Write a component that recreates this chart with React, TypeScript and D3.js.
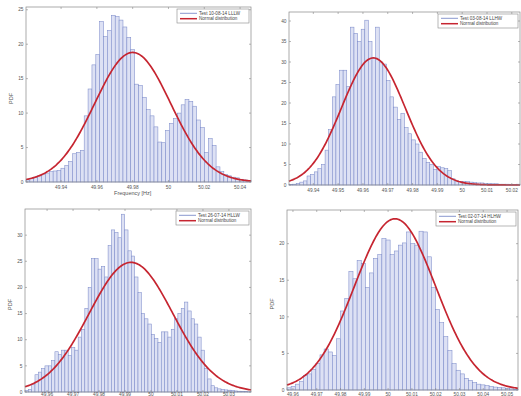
import React, { useEffect, useRef } from 'react';
import * as d3 from 'd3';

// bin heights (PDF), left to right
const pdfLLLW = [0.3, 0.5, 0.7, 0.9, 1.1, 1.3, 1.5, 1.6, 1.7, 2.0, 2.4, 3.0, 4.1, 4.3, 4.6, 9.6, 13.5, 17.0, 18.5, 23.3, 21.1, 22.0, 24.2, 24.0, 23.5, 22.5, 21.0, 19.2, 14.2, 14.0, 12.3, 10.5, 9.6, 8.0, 5.8, 5.7, 7.5, 8.5, 9.2, 10.0, 11.2, 12.0, 11.7, 11.0, 9.0, 7.9, 4.3, 6.3, 5.3, 2.2, 1.5, 1.1, 0.9, 0.7, 0.6, 0.4, 0.3, 0.2];
const pdfLLHW = [0.1, 0.2, 0.4, 0.7, 1.0, 2.2, 2.6, 3.2, 4.0, 5.0, 8.5, 13.5, 21.5, 24.5, 28, 28, 24, 38.5, 37, 35, 38, 40.2, 35, 31, 38.5, 30, 29.5, 25.5, 21.5, 19, 16, 17.5, 14, 12.5, 11, 10, 8, 6.5, 5.5, 5, 3.8, 4.5, 4.2, 4, 3.5, 1.5, 1.0, 0.9, 0.8, 0.8, 0.7, 0.6, 0.5, 0.5, 0.4, 0.4, 0.3, 0.3, 0.2, 0.2, 0.2, 0.1, 0.1, 0.2];
const pdfHLLW = [0.3, 0.5, 1.5, 3.3, 3.8, 4.5, 5.0, 5.0, 6.0, 7.7, 7.2, 8.0, 8.0, 7.0, 8.5, 8.0, 10.5, 12.0, 16, 20, 25.5, 25.5, 23.5, 24, 22, 28, 31, 30.5, 29.5, 34, 31, 27, 26, 22, 19, 15, 14, 13, 11, 10.2, 9.5, 11.5, 11.5, 10.5, 12, 14, 15, 16, 17.2, 15.5, 14, 13, 10.5, 8, 4.5, 2.5, 1.2, 0.8, 0.6, 0.5, 0.4, 0.35, 0.3, 0.2, 0.15, 0.1, 0.1, 0.05];
const pdfHLHW = [0.3, 0.5, 0.8, 1.2, 2.0, 2.2, 2.8, 3.6, 4.8, 5.6, 5.2, 4.7, 7.0, 10.8, 12.5, 16.2, 15.2, 17.7, 17.3, 14.0, 16.0, 18.0, 18.5, 20.7, 20.5, 18.5, 19.0, 19.8, 20.1, 21.6, 20.0, 19.8, 21.7, 21.6, 18.2, 14.0, 11.0, 9.2, 7.3, 5.4, 3.6, 2.7, 2.2, 1.6, 1.3, 1.0, 0.8, 0.7, 0.6, 0.5, 0.4, 0.35, 0.3, 0.2, 0.15, 0.1];

// histogram ranges [Hz]
const rangeLLLW: [number, number] = [49.9204, 50.0461];
const rangeLLHW: [number, number] = [49.9302, 50.0233];
const rangeHLLW: [number, number] = [49.9515, 50.0385];
const rangeHLHW: [number, number] = [49.9575, 50.0546];

// fitted normal distribution (mean, std) per test
const fitLLLW = [49.98, 0.02122];
const fitLLHW = [49.9642, 0.01287];
const fitHLLW = [49.9923, 0.01609];
const fitHLHW = [50.0029, 0.01705];

// tick labels
const xTicksLLLW = [49.94, 49.96, 49.98, 50, 50.02, 50.04];
const xTicksLLHW = [49.94, 49.95, 49.96, 49.97, 49.98, 49.99, 50, 50.01, 50.02];
const xTicksHLLW = [49.96, 49.97, 49.98, 49.99, 50, 50.01, 50.02, 50.03];
const xTicksHLHW = [49.96, 49.97, 49.98, 49.99, 50, 50.01, 50.02, 50.03, 50.04, 50.05];
const yTicksLLLW = [0, 5, 10, 15, 20, 25];
const yTicksLLHW = [0, 5, 10, 15, 20, 25, 30, 35, 40];
const yTicksHLLW = [0, 5, 10, 15, 20, 25, 30];
const yTicksHLHW = [0, 5, 10, 15, 20];

const legendNames = ['Test 10-08-14 LLLW', 'Test 03-08-14 LLHW', 'Test 26-07-14 HLLW', 'Test 02-07-14 HLHW'];

const panels = [
    { values: pdfLLLW, range: rangeLLLW, fit: fitLLLW, xTicks: xTicksLLLW, yTicks: yTicksLLLW, yMax: 25.4, name: legendNames[0],
      box: { left: 26, right: 251, top: 7, bottom: 182 }, legendW: 72, xLabel: true, yLabel: true, tickY: 188.5 },
    { values: pdfLLHW, range: rangeLLHW, fit: fitLLHW, xTicks: xTicksLLHW, yTicks: yTicksLLHW, yMax: 42.2, name: legendNames[1],
      box: { left: 289, right: 520, top: 12, bottom: 185 }, legendW: 80, xLabel: false, yLabel: false, tickY: 191.5 },
    { values: pdfHLLW, range: rangeHLLW, fit: fitHLLW, xTicks: xTicksHLLW, yTicks: yTicksHLLW, yMax: 35, name: legendNames[2],
      box: { left: 25, right: 251, top: 209, bottom: 392 }, legendW: 73, xLabel: false, yLabel: true, tickY: 395.8 },
    { values: pdfHLHW, range: rangeHLHW, fit: fitHLHW, xTicks: xTicksHLHW, yTicks: yTicksHLHW, yMax: 24.6, name: legendNames[3],
      box: { left: 287, right: 518, top: 210, bottom: 390 }, legendW: 80, xLabel: false, yLabel: true, tickY: 395.8 },
];

const barFill = '#dde1f4';
const barEdge = '#7d8cca';
const red = '#c62530';
const font = '"Liberation Sans", Arial, sans-serif';

const App: React.FC = () => {
    const svgRef = useRef<SVGSVGElement | null>(null);

    useEffect(() => {
        const svg = d3.select(svgRef.current);
        svg.selectAll('*').remove();

        panels.forEach((p) => {
            const { left, right, top, bottom } = p.box;
            const g = svg.append('g');

            const x = d3.scaleLinear().domain(p.range).range([left, right]);
            const y = d3.scaleLinear().domain([0, p.yMax]).range([bottom, top]);
            const n = p.values.length;
            const bw = (p.range[1] - p.range[0]) / n;

            // bars
            g.selectAll('rect.bar')
                .data(p.values)
                .enter()
                .append('rect')
                .attr('class', 'bar')
                .attr('x', (_, i) => x(p.range[0] + i * bw))
                .attr('y', (d) => y(d))
                .attr('width', (_, i) => x(p.range[0] + (i + 1) * bw) - x(p.range[0] + i * bw))
                .attr('height', (d) => y(0) - y(d))
                .attr('fill', barFill)
                .attr('stroke', barEdge)
                .attr('stroke-width', 0.55);

            // fitted normal pdf
            const [mu, sigma] = p.fit;
            const xs = d3.range(0, 201).map((k) => p.range[0] + (k / 200) * (p.range[1] - p.range[0]));
            const pdf = (v: number) => Math.exp(-0.5 * ((v - mu) / sigma) ** 2) / (sigma * Math.sqrt(2 * Math.PI));
            const line = d3.line<number>().x((v) => x(v)).y((v) => y(pdf(v)));
            g.append('path')
                .attr('d', line(xs))
                .attr('fill', 'none')
                .attr('stroke', red)
                .attr('stroke-width', 1.7);

            // box
            g.append('rect')
                .attr('x', left).attr('y', top)
                .attr('width', right - left).attr('height', bottom - top)
                .attr('fill', 'none').attr('stroke', '#888').attr('stroke-width', 0.7);

            // ticks, inward on all sides
            const tl = 2;
            p.xTicks.forEach((t) => {
                const px = x(t);
                g.append('line').attr('x1', px).attr('x2', px).attr('y1', bottom).attr('y2', bottom - tl)
                    .attr('stroke', '#888').attr('stroke-width', 0.6);
                g.append('line').attr('x1', px).attr('x2', px).attr('y1', top).attr('y2', top + tl)
                    .attr('stroke', '#888').attr('stroke-width', 0.6);
                g.append('text').attr('x', px).attr('y', p.tickY)
                    .attr('text-anchor', 'middle').attr('font-size', 4.8).attr('font-family', font).attr('fill', '#555')
                    .text(String(t));
            });
            p.yTicks.forEach((t) => {
                const py = y(t);
                g.append('line').attr('x1', left).attr('x2', left + tl).attr('y1', py).attr('y2', py)
                    .attr('stroke', '#888').attr('stroke-width', 0.6);
                g.append('line').attr('x1', right).attr('x2', right - tl).attr('y1', py).attr('y2', py)
                    .attr('stroke', '#888').attr('stroke-width', 0.6);
                g.append('text').attr('x', left - 2.5).attr('y', py + 1.7)
                    .attr('text-anchor', 'end').attr('font-size', 4.8).attr('font-family', font).attr('fill', '#555')
                    .text(String(t));
            });

            if (p.xLabel) {
                g.append('text').attr('x', x(49.98)).attr('y', bottom + 13)
                    .attr('text-anchor', 'middle').attr('font-size', 5.5).attr('font-family', font).attr('fill', '#555')
                    .text('Frequency [Hz]');
            }
            if (p.yLabel) {
                const cy = (top + bottom) / 2 + 4;
                g.append('text').attr('transform', `translate(${left - 13},${cy}) rotate(-90)`)
                    .attr('text-anchor', 'middle').attr('font-size', 5.5).attr('font-family', font).attr('fill', '#555')
                    .text('PDF');
            }

            // legend
            const lx = right - 2 - p.legendW;
            const ly = top + 2;
            const leg = g.append('g');
            leg.append('rect').attr('x', lx).attr('y', ly).attr('width', p.legendW).attr('height', 14)
                .attr('fill', '#fff').attr('stroke', '#888').attr('stroke-width', 0.6);
            const items = [{ label: p.name, color: barEdge, w: 0.9 }, { label: 'Normal distribution', color: red, w: 1.5 }];
            items.forEach((it, k) => {
                const yy = ly + 4.3 + k * 5.4;
                leg.append('line').attr('x1', lx + 3).attr('x2', lx + 20).attr('y1', yy).attr('y2', yy)
                    .attr('stroke', it.color).attr('stroke-width', it.w);
                leg.append('text').attr('x', lx + 22).attr('y', yy + 1.6)
                    .attr('font-size', 4.6).attr('font-family', font).attr('fill', '#444')
                    .text(it.label);
            });
        });
    }, []);

    return (
        <svg ref={svgRef} width={521} height={396}
             style={{ position: 'absolute', left: 0, top: 0, background: '#fff' }} />
    );
};

export default App;
